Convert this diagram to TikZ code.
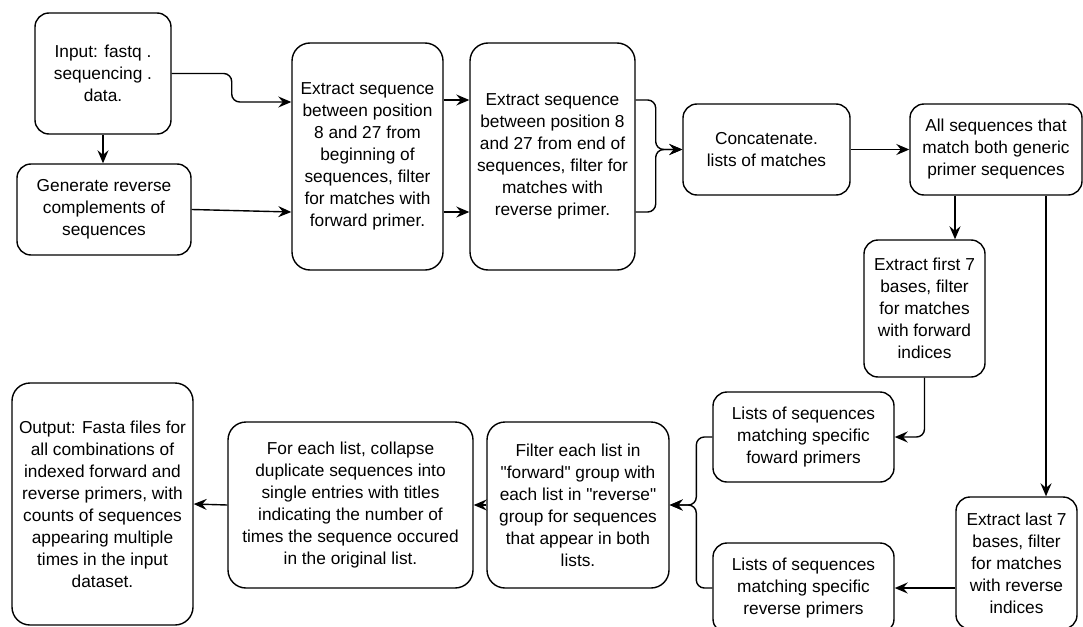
\documentclass[tikz,border=0pt]{standalone}
\usepackage{fontspec}
\setmainfont{Liberation Sans}
\usetikzlibrary{arrows.meta}

\begin{document}
\begin{tikzpicture}[x=1pt,y=-1pt,
	box/.style={draw, line width=1.4pt, rounded corners=14pt, align=center, inner sep=0pt, font=\fontsize{17.3}{22}\selectfont},
	arr/.style={-{Stealth[length=13pt,width=11pt,inset=4.5pt]}, line width=1.4pt}]
	\useasboundingbox (0,0) rectangle (1083,626);

	% top row
	\node[box, minimum width=136, minimum height=121] (inp) at (103,73.5) {Input: fastq .\\ sequencing .\\ data.};
	\node[box, minimum width=174, minimum height=91] (rev) at (104,209.5) {Generate reverse\\ complements of\\ sequences};
	\node[box, minimum width=151, minimum height=227, rounded corners=18pt] (fwd) at (367.5,156.5) {Extract sequence\\ between position\\ 8 and 27 from\\ beginning of\\ sequences, filter\\ for matches with\\ forward primer.};
	\node[box, minimum width=165, minimum height=227, rounded corners=18pt] (end) at (552.5,156.5) {Extract sequence\\ between position 8\\ and 27 from end of\\ sequences, filter for\\ matches with\\ reverse primer.};
	\node[box, minimum width=167, minimum height=91] (cat) at (766.5,149.5) {Concatenate.\\ lists of matches};
	\node[box, minimum width=172, minimum height=91] (all) at (996,149.5) {All sequences that\\ match both generic\\ primer sequences};

	% right column
	\node[box, minimum width=121, minimum height=137] (fid) at (924.5,308.5) {Extract first 7\\ bases, filter\\ for matches\\ with forward\\ indices};
	\node[box, minimum width=181, minimum height=90] (lfw) at (803.5,437) {Lists of sequences\\ matching specific\\ foward primers};
	\node[box, minimum width=121, minimum height=132] (rid) at (1016.5,563) {Extract last 7\\ bases, filter\\ for matches\\ with reverse\\ indices};
	\node[box, minimum width=181, minimum height=90] (lrv) at (803.5,588) {Lists of sequences\\ matching specific\\ reverse primers};

	% bottom row
	\node[box, minimum width=182, minimum height=166, rounded corners=18pt] (flt) at (578,505) {Filter each list in\\ \textquotedbl forward\textquotedbl{} group with\\ each list in \textquotedbl reverse\textquotedbl\\ group for sequences\\ that appear in both\\ lists.};
	\node[box, minimum width=245, minimum height=166, rounded corners=18pt] (col) at (350.5,505) {For each list, collapse\\ duplicate sequences into\\ single entries with titles\\ indicating the number of\\ times the sequence occured\\ in the original list.};
	\node[box, minimum width=181, minimum height=242, rounded corners=18pt] (out) at (102.5,504) {Output: Fasta files for\\ all combinations of\\ indexed forward and\\ reverse primers, with\\ counts of sequences\\ appearing multiple\\ times in the input\\ dataset.};

	% connectors
	\draw[arr, rounded corners=8pt] (inp.east) -- ++(60,0) |- ([yshift=54.5pt]fwd.west);
	\draw[arr] (inp.south) -- (inp.south |- rev.north);
	\draw[arr] (rev.east) -- ([yshift=-55.5pt]fwd.west);
	\foreach \s in {56.5,-55.5}{
		\draw[arr] ([yshift=\s pt]fwd.east) -- ([yshift=\s pt]end.west);
		\draw[arr, rounded corners=8pt] ([yshift=\s pt]end.east) -- ++(20,0) |- (cat.west);
	}
	\draw[arr] (cat.east) -- (all.west);
	\draw[arr] ([xshift=-41pt]all.south) -- ([xshift=-41pt]all.south |- fid.north);
	\draw[arr] ([xshift=50pt]all.south) -- ([xshift=50pt]all.south |- rid.north);
	\draw[arr, rounded corners=8pt] (fid.south) |- (lfw.east);
	\draw[arr] (rid.west |- lrv.east) -- (lrv.east);
	\foreach \n in {lfw,lrv}{
		\draw[arr, rounded corners=8pt] (\n.west) -- ++(-16,0) |- (flt.east);
	}
	\draw[arr] (flt.west) -- (col.east);
	\draw[arr] (col.west) -- (out.east);
\end{tikzpicture}
\end{document}
